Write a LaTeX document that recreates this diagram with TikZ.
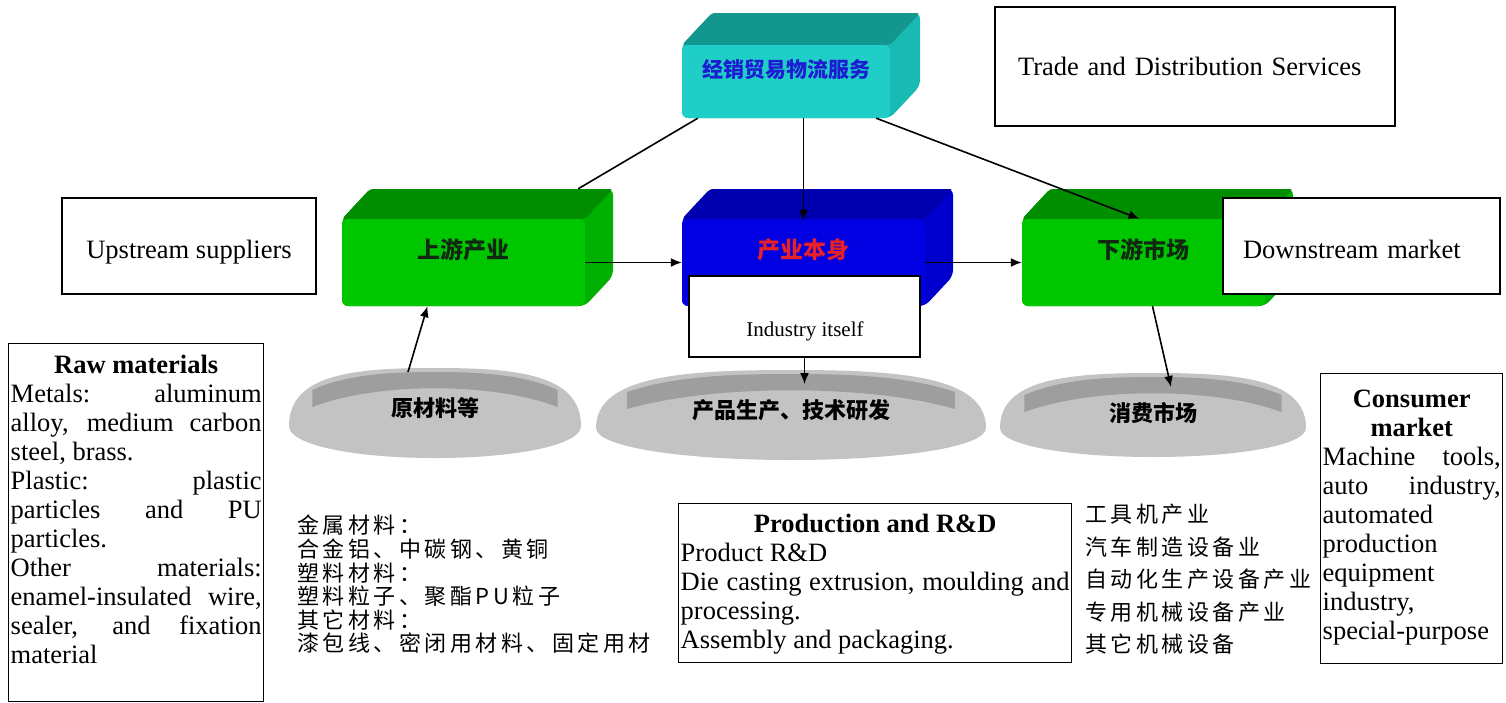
\documentclass[tikz,border=0pt]{standalone}
\usepackage{fontspec}
\setmainfont{Liberation Serif}
\newfontfamily\cjk{Noto Sans CJK SC}
\newfontfamily\cjklist[LetterSpace=16]{Noto Sans CJK SC}
\usetikzlibrary{arrows.meta}

% Farben der Quader
\definecolor{cyanfront}{RGB}{32,206,200}
\definecolor{cyantop}{RGB}{18,150,142}
\definecolor{cyanside}{RGB}{26,186,180}
\definecolor{greenfront}{RGB}{0,198,0}
\definecolor{greentop}{RGB}{0,142,0}
\definecolor{greenside}{RGB}{0,176,0}
\definecolor{bluefront}{RGB}{0,0,226}
\definecolor{bluetop}{RGB}{0,0,176}
\definecolor{blueside}{RGB}{0,0,206}
\definecolor{labelblue}{RGB}{28,28,210}
\definecolor{labelred}{RGB}{232,32,40}
\definecolor{labeldark}{RGB}{16,40,16}
% Schalen
\definecolor{dishbody}{RGB}{195,195,195}
\definecolor{dishband}{RGB}{158,158,158}

\tikzset{
    front/.style={rectangle, rounded corners=6pt, inner sep=0pt,
        text height=8pt, text depth=17pt},
    dishlabel/.style={font=\cjk\bfseries\fontsize{22}{22}\selectfont},
    infobox/.style={draw, line width=1.4pt, fill=white, inner sep=2pt},
    engtext/.style={font=\fontsize{26.5}{29}\selectfont},
    lowtext/.style={text height=31pt, text depth=6pt},
    conn/.style={line width=1.6pt, draw=black},
}

\begin{document}
\begin{tikzpicture}[x=1pt, y=-1pt, >={Latex[length=11pt,width=9pt]}]
    \useasboundingbox (0,0) rectangle (1506,702);
    \fill[white] (0,0) rectangle (1506,702);

    % Quader: Name/x/y/Breite/Höhe/Tiefe x/Tiefe y/Farbe/Schrift/Größe/Text
    \foreach \nm/\cx/\cy/\w/\h/\dx/\dy/\col/\tcol/\fs/\txt in {
            dist/786/81.5/208/73/30/32/cyan/labelblue/21/经销贸易物流服务,
            up/463.5/262.5/243/87/28/30/green/labeldark/23/上游产业,
            core/803.5/262.5/243/87/28/30/blue/labelred/23/产业本身,
            down/1143.5/262.5/243/87/28/30/green/labeldark/23/下游市场} {
        % Seite und Deckel
        \fill[fill=\col side, rounded corners=6pt] ({\cx-\w/2},{\cy+\h/2}) -- ({\cx-\w/2},{\cy-\h/2})
            -- ++(\dx,-\dy) -- ++(\w,0) -- ++(0,\h) -- ({\cx+\w/2},{\cy+\h/2}) -- cycle;
        \fill[fill=\col top, rounded corners=3pt] ({\cx-\w/2},{\cy-\h/2}) -- ++(\dx,-\dy)
            -- ++(\w,0) -- ({\cx+\w/2},{\cy-\h/2}) -- cycle;
        % Vorderseite
        \node[front, fill=\col front, minimum width=\w, minimum height=\h, text=\tcol,
            font=\cjk\bfseries\fontsize{\fs}{\fs}\selectfont] (\nm) at (\cx,\cy) {\txt};
    }

    % Schalen: Name/x/Halbbreite/oben/Mitte/unten/Text
    \foreach \nm/\xc/\a/\yt/\ym/\yb/\txt in {
            raw/435/146/368/426/458/原材料等,
            prod/791/195/370/428/460/产品生产、技术研发,
            cons/1153/153/373/428/457/消费市场} {
        \fill[dishbody] ({\xc-\a},\ym) .. controls ({\xc-\a},{\ym-0.9*(\ym-\yt)}) and ({\xc-0.55*\a},\yt) .. (\xc,\yt)
            .. controls ({\xc+0.55*\a},\yt) and ({\xc+\a},{\ym-0.9*(\ym-\yt)}) .. ({\xc+\a},\ym)
            .. controls ({\xc+\a},{\ym+0.6*(\yb-\ym)}) and ({\xc+0.55*\a},\yb) .. (\xc,\yb)
            .. controls ({\xc-0.55*\a},\yb) and ({\xc-\a},{\ym+0.6*(\yb-\ym)}) .. cycle;
        % dunkler Rand
        \fill[dishband] ({\xc-0.84*\a},{\yt+39}) -- ({\xc-0.84*\a},{\yt+22})
            .. controls ({\xc-0.6*\a},{\yt+6}) and ({\xc-0.3*\a},{\yt+4}) .. (\xc,{\yt+4})
            .. controls ({\xc+0.3*\a},{\yt+4}) and ({\xc+0.6*\a},{\yt+6}) .. ({\xc+0.84*\a},{\yt+22})
            -- ({\xc+0.84*\a},{\yt+39}) .. controls ({\xc+0.4*\a},{\yt+14}) and ({\xc-0.4*\a},{\yt+14}) .. cycle;
        \node[dishlabel] (\nm) at (\xc,{\yt+40}) {\txt};
        \coordinate (\nm-top) at (\xc,\yt);
        \coordinate (\nm-tip) at (\xc,{\yt+14});
    }

    % Listen unter den Schalen
    \node[anchor=north west, inner sep=0pt, align=left,
        font=\cjklist\fontsize{22}{23.6}\selectfont] (rawlist) at (297,515)
        {金属材料：\\合金铝、中碳钢、黄铜\\塑料材料：\\塑料粒子、聚酯PU粒子\\其它材料：\\漆包线、密闭用材料、固定用材};
    \node[anchor=north west, inner sep=0pt, align=left,
        font=\cjklist\fontsize{22}{32.5}\selectfont] (conslist) at (1085,504)
        {工具机产业\\汽车制造设备业\\自动化生产设备产业\\专用机械设备产业\\其它机械设备};

    % Beschriftungen
    \node[infobox, engtext, minimum width=400, minimum height=119, text width=354, align=left]
        (trade) at (1195,66.5) {Trade and Distribution Services};
    \node[infobox, engtext, lowtext, minimum width=254, minimum height=96] (upsup) at (189,246) {Upstream suppliers};
    \node[infobox, engtext, lowtext, minimum width=277, minimum height=96, text width=237, align=left]
        (downmkt) at (1361.5,246) {Downstream market};
    \node[infobox, minimum width=231, minimum height=81] (indbox) at (804.5,316.5) {};
    \node[font=\fontsize{21}{21}\selectfont] (indtxt) at (805,331) {Industry itself};

    \node[infobox, engtext, anchor=north west] (rawbox) at (8,343) {\parbox[t][354pt][t]{251pt}{%
        \tolerance=10000\hyphenpenalty=10000\exhyphenpenalty=10000
        \vspace*{9pt}{\centering\bfseries Raw materials\par}
        Metals: aluminum\linebreak alloy, medium carbon\linebreak steel, brass.\\
        Plastic: plastic\linebreak particles and PU\linebreak particles.\\
        Other materials:\linebreak enamel-insulated wire,\linebreak sealer, and fixation\linebreak material}};
    \node[infobox, engtext, anchor=north west] (prodbox) at (678,503) {\parbox[t][155pt][t]{389pt}{%
        \tolerance=10000\hyphenpenalty=10000\exhyphenpenalty=10000
        \vspace*{8pt}{\centering\bfseries Production and R\&D\par}
        Product R\&D\\
        Die casting extrusion, moulding and\linebreak processing.\\
        Assembly and packaging.}};
    \node[infobox, engtext, anchor=north west] (consbox) at (1320,373) {\parbox[t][286pt][t]{178pt}{%
        \tolerance=10000\hyphenpenalty=10000\exhyphenpenalty=10000
        \vspace*{14pt}{\centering\bfseries Consumer market\par}
        Machine tools,\linebreak auto industry,\linebreak
        automated\\ production\\ equipment\\ industry,\\ special-purpose}};

    % Verbindungen
    \draw[conn] ([xshift=16pt]dist.south west) -- ([shift={(-7,-30)}]up.north east);
    \draw[conn, ->] ([xshift=-14pt]dist.south east) -- ([xshift=-4pt]down.north);
    \coordinate (core-top) at ([yshift=-2pt]core.north);
    \draw[conn, ->] (dist.south -| core-top) -- (core-top);
    \draw[conn, ->] (up.east) -- (core.west);
    \draw[conn, ->] (core.east) -- (down.west);
    \draw[conn, ->] ([xshift=-27pt,yshift=-4pt]raw-top) -- ([xshift=-36pt]up.south);
    \draw[conn, ->] (indbox.south) -- (indbox.south |- prod-tip);
    \draw[conn, ->] ([xshift=9pt]down.south) -- ([xshift=18pt]cons-tip);
\end{tikzpicture}
\end{document}
